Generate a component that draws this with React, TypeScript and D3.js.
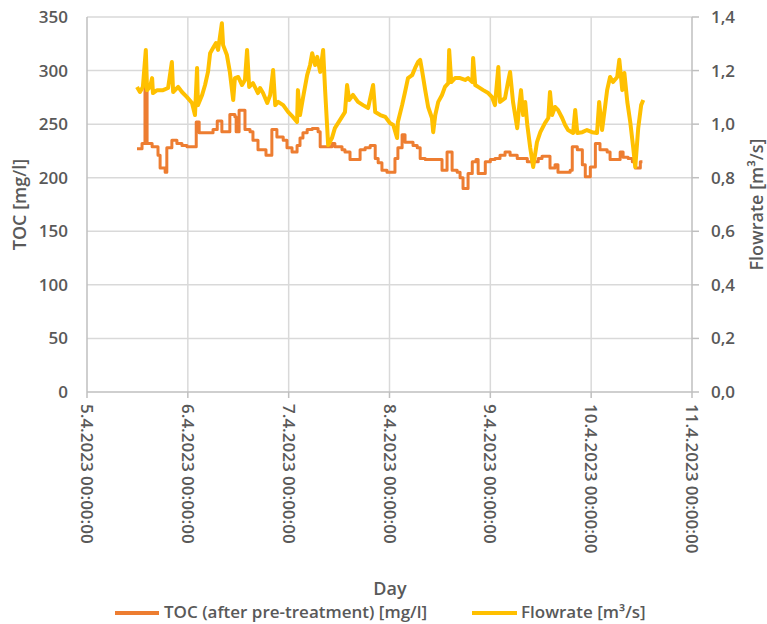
import React, { useEffect } from 'react'
import * as d3 from 'd3'

// hours after 5.4.2023 00:00 and the readings at those moments
const tocHours = [
  11.9, 13.1, 13.8, 14.3, 15.5, 16.9, 17.4, 18.6, 19.0, 20.2, 21.4, 22.6, 23.8,
  26.0, 26.7, 30.0, 31.0, 32.1, 34.0, 35.2, 35.5, 36.2, 37.6, 38.8, 39.5, 40.7,
  42.6, 44.0, 45.2, 46.7, 47.6, 48.8, 50.0, 50.7, 51.4, 52.4, 53.6, 55.0, 55.5,
  58.3, 59.0, 60.7, 61.4, 62.6, 65.0, 66.2, 67.4, 68.6, 69.3, 70.2, 71.4, 73.3,
  74.0, 75.0, 75.7, 77.6, 78.6, 79.3, 80.5, 83.3, 84.5, 85.7, 86.9, 88.1, 88.8,
  89.5, 90.7, 91.7, 92.6, 93.1, 94.8, 96.0, 97.1, 98.3, 99.5, 100.7, 102.4,
  104.8, 107.4, 108.3, 110.2, 111.4, 112.1, 115.0, 115.5, 116.7, 117.9, 118.6,
  119.8, 121.0, 122.1, 123.8, 124.5, 126.9, 127.6, 128.8, 129.8, 130.5, 131.7, 132.2,
]
const tocValues = [
  227, 232, 287, 232, 229, 221, 209, 205, 228, 235, 232, 230, 229,
  252, 242, 245, 253, 243, 259, 257, 243, 263, 245, 243, 235, 226,
  221, 245, 238, 235, 228, 224, 230, 237, 242, 245, 246, 243, 229,
  232, 229, 226, 224, 217, 226, 228, 230, 218, 214, 207, 205, 218,
  228, 240, 233, 230, 228, 218, 217, 217, 207, 224, 207, 205, 200,
  190, 204, 215, 217, 204, 215, 217, 218, 221, 224, 221, 218,
  215, 218, 220, 209, 212, 205, 207, 229, 226, 212, 201,
  210, 232, 226, 224, 217, 224, 219, 218, 215, 209, 215, 215,
]

const flowHours = [
  11.9, 12.6, 13.3, 14.0, 14.3, 15.0, 15.5, 15.7, 16.7, 18.1, 19.3, 20.2, 20.5,
  21.7, 22.6, 23.8, 25.0, 25.7, 26.2, 26.4, 27.4, 28.1, 28.8, 29.3, 30.0, 30.7,
  31.2, 32.1, 32.4, 33.3, 34.0, 34.8, 35.2, 36.0, 36.9, 37.6, 38.1, 38.6, 39.5,
  40.7, 41.2, 41.9, 42.9, 43.6, 44.3, 44.8, 45.5, 46.7, 47.9, 49.0, 50.0, 50.2,
  50.7, 51.4, 52.4, 53.1, 53.6, 54.3, 54.8, 55.5, 56.2, 56.7, 57.4, 58.3, 59.0,
  60.2, 61.4, 61.9, 62.4, 63.3, 64.5, 65.7, 66.9, 68.1, 68.6, 69.8, 71.0, 72.1,
  72.9, 73.8, 74.0, 75.0, 75.7, 76.4, 77.4, 78.1, 78.8, 79.3, 79.8, 80.5, 81.2,
  82.1, 82.4, 82.9, 83.6, 84.5, 85.2, 86.0, 86.2, 86.7, 87.6, 88.8, 90.0, 90.7,
  91.7, 91.9, 92.4, 93.1, 94.3, 95.5, 96.4, 97.1, 97.9, 98.3, 99.5, 100.2, 100.7,
  101.4, 102.4, 102.9, 103.3, 103.8, 104.3, 104.8, 105.5, 106.2, 107.1, 107.9,
  109.0, 109.8, 110.2, 110.7, 111.4, 112.1, 113.1, 113.8, 114.5, 115.7, 116.2,
  116.7, 117.9, 119.0, 120.2, 121.4, 121.9, 122.6, 123.3, 123.8, 124.5, 125.2,
  126.2, 126.7, 127.4, 127.9, 128.6, 129.3, 130.0, 130.5, 131.2, 131.9, 132.4,
]
const flowValues = [
  1.139, 1.12, 1.139, 1.277, 1.127, 1.139, 1.172, 1.116, 1.127, 1.127, 1.135, 1.232, 1.12,
  1.139, 1.12, 1.101, 1.079, 1.034, 1.21, 1.071, 1.109, 1.146, 1.195, 1.265, 1.284, 1.303,
  1.277, 1.377, 1.295, 1.258, 1.195, 1.09, 1.172, 1.176, 1.146, 1.165, 1.277, 1.139, 1.153,
  1.116, 1.135, 1.116, 1.079, 1.109, 1.202, 1.071, 1.083, 1.071, 1.045, 1.027, 1.008, 1.127,
  1.034, 1.097, 1.183, 1.221, 1.265, 1.221, 1.251, 1.195, 1.277, 1.12, 0.922, 0.948, 0.985,
  1.015, 1.045, 1.146, 1.09, 1.109, 1.083, 1.071, 1.06, 1.146, 1.045, 1.034, 1.027, 1.004,
  0.997, 0.948, 1.008, 1.071, 1.12, 1.172, 1.183, 1.21, 1.232, 1.24, 1.195, 1.127, 1.064,
  1.023, 0.97, 1.034, 1.083, 1.109, 1.139, 1.153, 1.277, 1.157, 1.172, 1.172, 1.165, 1.172,
  1.157, 1.247, 1.146, 1.139, 1.127, 1.116, 1.101, 1.071, 1.213, 1.083, 1.097, 1.157, 1.195,
  1.083, 0.985, 1.071, 1.127, 1.034, 1.083, 0.997, 0.911, 0.84, 0.933, 0.97,
  1.004, 1.023, 1.12, 1.034, 1.064, 1.053, 1.023, 0.997, 0.978, 0.967, 1.053,
  0.967, 0.97, 0.978, 0.97, 0.967, 1.083, 0.978, 1.064, 1.127, 1.176, 1.157,
  1.176, 1.24, 1.127, 1.191, 1.083, 1.008, 0.914, 0.84, 0.985, 1.071, 1.09,
]

const leftTicks = [0, 50, 100, 150, 200, 250, 300, 350]
const rightTicks = [0, 0.2, 0.4, 0.6, 0.8, 1.0, 1.2, 1.4]

const W = 767
const H = 624
const left = 87
const right = 692
const top = 17
const bottom = 392

const TEXT = '#595959'
const GRID = '#D9D9D9'
const AXIS = '#BFBFBF'
const FONT = '"Open Sans", sans-serif'

const start = new Date(2023, 3, 5)
const end = new Date(2023, 3, 11)
const at = (h: number) => new Date(start.getTime() + h * 3600 * 1000)

export default function App() {
  useEffect(() => {
    document.body.style.margin = '0'
  }, [])

  const x = d3.scaleTime().domain([start, end]).range([left, right])
  const yL = d3.scaleLinear().domain([0, 350]).range([bottom, top])
  const yR = d3.scaleLinear().domain([0, 1.4]).range([bottom, top])

  // comma decimals like the original
  const commaFmt = d3.formatLocale({
    decimal: ',',
    thousands: '.',
    grouping: [3],
    currency: ['', '€'],
  }).format('.1f')
  const dateFmt = d3.timeFormat('%-d.%-m.%Y %H:%M:%S')
  const dayTicks = d3.timeDay.range(start, d3.timeDay.offset(end, 1))

  const toc = tocHours.map((h, i) => [at(h), tocValues[i]] as [Date, number])
  const flow = flowHours.map((h, i) => [at(h), flowValues[i]] as [Date, number])

  const tocLine = d3
    .line<[Date, number]>()
    .x((d) => x(d[0]))
    .y((d) => yL(d[1]))
    .curve(d3.curveStepAfter)
  const flowLine = d3
    .line<[Date, number]>()
    .x((d) => x(d[0]))
    .y((d) => yR(d[1]))

  const mid = (top + bottom) / 2

  return (
    <svg width={W} height={H} style={{ display: 'block', background: '#fff' }} fontFamily={FONT} fontWeight={600}>
      {/* grid */}
      {leftTicks.slice(1).map((t) => (
        <line key={'h' + t} x1={left} x2={right} y1={yL(t)} y2={yL(t)} stroke={GRID} strokeWidth={1.5} />
      ))}
      {dayTicks.slice(1, -1).map((d) => (
        <line key={'v' + d.getTime()} x1={x(d)} x2={x(d)} y1={top} y2={bottom} stroke={GRID} strokeWidth={1.5} />
      ))}

      {/* axis lines */}
      <line x1={left} x2={left} y1={top} y2={bottom} stroke={AXIS} strokeWidth={1.5} />
      <line x1={right} x2={right} y1={top} y2={bottom} stroke={AXIS} strokeWidth={1.5} />
      <line x1={left} x2={right} y1={bottom} y2={bottom} stroke={AXIS} strokeWidth={1.5} />
      {rightTicks.map((t) => (
        <line key={'rt' + t} x1={right} x2={right + 7} y1={yR(t)} y2={yR(t)} stroke={AXIS} strokeWidth={1.5} />
      ))}
      {dayTicks.map((d) => (
        <line key={'xt' + d.getTime()} x1={x(d)} x2={x(d)} y1={bottom} y2={bottom + 6} stroke={AXIS} strokeWidth={1.5} />
      ))}

      {/* series */}
      <path d={tocLine(toc) || ''} fill="none" stroke="#ED7D31" strokeWidth={3} strokeLinejoin="round" />
      <path d={flowLine(flow) || ''} fill="none" stroke="#FFC000" strokeWidth={4} strokeLinejoin="round" />

      {/* tick labels */}
      {leftTicks.map((t) => (
        <text key={'lt' + t} x={68} y={yL(t)} dy="0.35em" textAnchor="end" fontSize={17} fill={TEXT}>
          {t}
        </text>
      ))}
      {rightTicks.map((t) => (
        <text key={'rl' + t} x={711} y={yR(t)} dy="0.35em" textAnchor="start" fontSize={17} fill={TEXT}>
          {commaFmt(t)}
        </text>
      ))}
      {dayTicks.map((d) => (
        <text
          key={'xl' + d.getTime()}
          transform={`translate(${x(d)},${bottom + 12}) rotate(90)`}
          dy="0.35em"
          textAnchor="start"
          fontSize={17}
          fill={TEXT}
        >
          {dateFmt(d)}
        </text>
      ))}

      {/* axis titles */}
      <text transform={`translate(20,${mid}) rotate(-90)`} dy="0.35em" textAnchor="middle" fontSize={18} fill={TEXT}>
        TOC [mg/l]
      </text>
      <text transform={`translate(757,${mid}) rotate(-90)`} dy="0.35em" textAnchor="middle" fontSize={18} fill={TEXT}>
        Flowrate [m³/s]
      </text>
      <text x={390} y={589} dy="0.35em" textAnchor="middle" fontSize={18} fill={TEXT}>
        Day
      </text>

      {/* legend */}
      <line x1={115} x2={159} y1={613} y2={613} stroke="#ED7D31" strokeWidth={4} />
      <text x={164} y={612} dy="0.35em" fontSize={17} fill={TEXT}>
        TOC (after pre-treatment) [mg/l]
      </text>
      <line x1={472} x2={517} y1={613} y2={613} stroke="#FFC000" strokeWidth={4} />
      <text x={521} y={612} dy="0.35em" fontSize={17} fill={TEXT}>
        Flowrate [m³/s]
      </text>
    </svg>
  )
}
